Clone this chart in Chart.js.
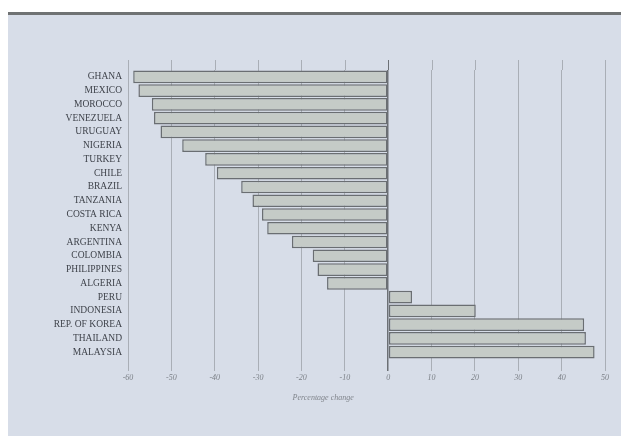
<!DOCTYPE html>
<html>
<head>
<meta charset="utf-8">
<script src="https://cdn.jsdelivr.net/npm/chart.js@4"></script>
<style>
  body { margin: 0; background: #ffffff; }
  #paper {
    position: absolute; left: 8px; top: 12px; width: 613px; height: 421px;
    background: #d7dde8; border-top: 3px solid #6f7273;
  }
  #wrap { position: absolute; left: 0; top: 0; width: 621px; height: 436px; }
</style>
</head>
<body>
<div id="paper"></div>
<div id="wrap"><canvas id="changeChart" width="621" height="436"></canvas></div>
<script>
// Percentage change by country
const countries = ['GHANA', 'MEXICO', 'MOROCCO', 'VENEZUELA', 'URUGUAY', 'NIGERIA', 'TURKEY',
    'CHILE', 'BRAZIL', 'TANZANIA', 'COSTA RICA', 'KENYA', 'ARGENTINA', 'COLOMBIA',
    'PHILIPPINES', 'ALGERIA', 'PERU', 'INDONESIA', 'REP. OF KOREA', 'THAILAND', 'MALAYSIA'];
const changes = [-58.8, -57.6, -54.5, -54.0, -52.5, -47.5, -42.2, -39.5, -33.9, -31.3, -29.1,
    -27.9, -22.2, -17.4, -16.3, -14.1, 5.5, 20.2, 45.2, 45.6, 47.6];
const tickValues = [-60, -50, -40, -30, -20, -10, 0, 10, 20, 30, 40, 50];
const axisTitle = 'Percentage change';

const gridColor = '#a9aeb6';
const zeroColor = '#6c7075';

// grid lines run a little above the first bar, as in the printed figure
const gridHead = {
    id: 'gridHead',
    beforeDatasetsDraw(chart) {
        const { ctx, chartArea, scales } = chart;
        ctx.save();
        ctx.lineWidth = 1;
        scales.x.ticks.forEach(t => {
            const x = Math.round(scales.x.getPixelForValue(t.value)) + 0.5;
            ctx.strokeStyle = t.value === 0 ? zeroColor : gridColor;
            ctx.beginPath();
            ctx.moveTo(x, chartArea.top - 10);
            ctx.lineTo(x, chartArea.top);
            ctx.stroke();
        });
        ctx.restore();
    },
    afterDraw(chart) {
        const { ctx, scales } = chart;
        ctx.save();
        ctx.font = 'italic 8px "Liberation Serif"';
        ctx.fillStyle = '#80858c';
        ctx.textAlign = 'center';
        ctx.textBaseline = 'middle';
        ctx.fillText(axisTitle, scales.x.getPixelForValue(-15), 398);
        ctx.restore();
    }
};

new Chart(document.getElementById('changeChart').getContext('2d'), {
    type: 'bar',
    data: {
        labels: countries,
        datasets: [{
            data: changes,
            backgroundColor: '#c5cbc7',
            borderColor: '#6a6e72',
            borderWidth: 1.5,
            borderSkipped: false,
            barPercentage: 0.92,
            categoryPercentage: 1
        }]
    },
    options: {
        indexAxis: 'y',
        responsive: false,
        animation: false,
        layout: { padding: { top: 70, right: 16, bottom: 28, left: 0 } },
        plugins: {
            legend: { display: false },
            tooltip: { enabled: false }
        },
        scales: {
            x: {
                type: 'linear',
                min: -60,
                max: 50,
                afterBuildTicks(scale) {
                    scale.ticks = tickValues.map(v => ({ value: v }));
                },
                afterFit(scale) { scale.height = 49; },
                border: { display: false },
                grid: {
                    color: c => (c.tick && c.tick.value === 0 ? zeroColor : gridColor),
                    lineWidth: c => (c.tick && c.tick.value === 0 ? 1.5 : 1),
                    drawTicks: true,
                    tickLength: 12
                },
                ticks: {
                    padding: 2,
                    color: '#7c8188',
                    font: { family: 'Liberation Serif', size: 8, style: 'italic' },
                    maxRotation: 0,
                    autoSkip: false
                }
            },
            y: {
                afterFit(scale) { scale.width = 128; },
                border: { display: false },
                grid: { display: false, drawTicks: false, tickLength: 0 },
                ticks: {
                    padding: 6,
                    autoSkip: false,
                    color: '#3f434b',
                    font: { family: 'Liberation Serif', size: 9.5 }
                }
            }
        }
    },
    plugins: [gridHead]
});
</script>
</body>
</html>
